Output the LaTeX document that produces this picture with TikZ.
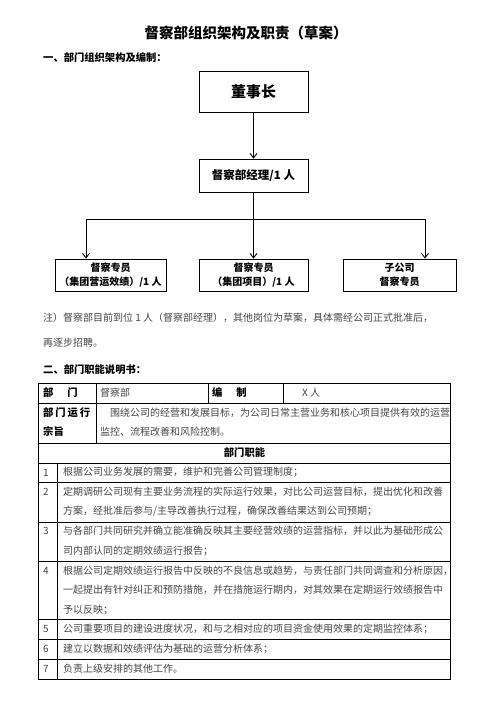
\documentclass[tikz,border=0pt]{standalone}
\usepackage{fontspec}
\setmainfont{Noto Sans CJK SC}
\usetikzlibrary{positioning, arrows.meta, calc}
\definecolor{bodygray}{RGB}{70,70,70}

\begin{document}
\begin{tikzpicture}[x=1pt, y=-1pt, >={Straight Barb[length=4.5pt, width=7pt, line width=0.9pt]},
  orgbox/.style={draw, line width=0.8pt, align=center, inner sep=0pt,
                 font=\bfseries\fontsize{10}{14.5}\selectfont},
  link/.style={line width=0.9pt},
  grid/.style={line width=0.8pt},
  txt/.style={anchor=west, inner sep=0pt, text=bodygray,
              font=\fontsize{10}{12}\selectfont},
  head/.style={anchor=west, inner sep=0pt,
               font=\bfseries\fontsize{10.3}{12}\selectfont}]
  \useasboundingbox (0,0) rectangle (496,702);

  % title and first heading
  \node[font=\bfseries\fontsize{14.5}{16}\selectfont] (title) at (246,33)
        {督察部组织架构及职责（草案）};
  \node[head] (sec1) at (43,58) {一、部门组织架构及编制：};

  % org chart
  \node[orgbox, minimum width=109pt, minimum height=41pt,
        font=\bfseries\fontsize{15}{18}\selectfont] (chair) at (253.5,91.5) {董事长};
  \node[orgbox, minimum width=109pt, minimum height=33pt,
        font=\bfseries\fontsize{11.5}{14}\selectfont] (mgr) at (253.5,175.5) {督察部经理/1 人};
  \node[orgbox, minimum width=111pt, minimum height=32pt] (audA) at (110.5,275)
        {督察专员\\（集团营运效绩）/1 人};
  \node[orgbox, minimum width=109pt, minimum height=32pt] (audB) at (253.5,275)
        {督察专员\\（集团项目）/1 人};
  \node[orgbox, minimum width=113pt, minimum height=32pt] (audC) at (399.5,275)
        {子公司\\督察专员};

  \coordinate (barL) at (86,219);
  \coordinate (barR) at (425,219);
  \draw[link, ->] (chair) -- (mgr);
  \draw[link] (barL) -- (barR);
  \draw[link, ->] (mgr) -- (audB);
  \draw[link, ->] (barL) -- (barL |- audA.north);
  \draw[link, ->] (barR) -- (barR |- audC.north);

  % note
  \node[txt] (note1) at (43,318)
        {注）督察部目前到位 1 人（督察部经理），其他岗位为草案，具体需经公司正式批准后，};
  \node[txt] (note2) at (43,343) {再逐步招聘。};
  \node[head] (sec2) at (43,370) {二、部门职能说明书：};

  % table grid
  \draw[grid] (38.5,383) rectangle (450.5,679);
  \foreach \y in {403,443,463,482,522,561,619,639,659}
    \draw[grid] (38.5,\y) -- (450.5,\y);
  \draw[grid] (96,383) -- (96,443);
  \draw[grid] (208,383) -- (208,403);
  \draw[grid] (283,383) -- (283,403);
  \draw[grid] (57.5,463) -- (57.5,679);

  % table head cells
  \node[head] (deptlbl) at (43,393) {部\hspace{14pt}门};
  \node[txt] (dept) at (100,393) {督察部};
  \node[head] (sizelbl) at (212,393) {编\hspace{14pt}制};
  \node[txt] (size) at (302,393) {X 人};
  \node[head] (aimlbl) at (43,413) {\makebox[47pt][l]{部\hfill 门\hfill 运\hfill 行}};
  \node[head] (aimlbl2) at (43,432) {宗旨};
  \node[txt] (aim1) at (110,413)
        {围绕公司的经营和发展目标，为公司日常主营业务和核心项目提供有效的运营};
  \node[txt] (aim2) at (100,432) {监控、流程改善和风险控制。};
  \node[head, anchor=center] (dutylbl) at (244.5,453) {部门职能};

  % duties
  \foreach \n/\y in {1/472.5, 2/492, 3/531, 4/571, 5/629, 6/649, 7/669}
    \node[txt] (num\n) at (43,\y) {\n};
  \foreach \i/\y/\t in {
      1/472.5/{根据公司业务发展的需要，维护和完善公司管理制度；},
      2a/492/{定期调研公司现有主要业务流程的实际运行效果，对比公司运营目标，提出优化和改善},
      2b/511/{方案，经批准后参与/主导改善执行过程，确保改善结果达到公司预期；},
      3a/531/{与各部门共同研究并确立能准确反映其主要经营效绩的运营指标，并以此为基础形成公},
      3b/551/{司内部认同的定期效绩运行报告；},
      4a/571/{根据公司定期效绩运行报告中反映的不良信息或趋势，与责任部门共同调查和分析原因，},
      4b/590/{一起提出有针对纠正和预防措施，并在措施运行期内，对其效果在定期运行效绩报告中},
      4c/610/{予以反映；},
      5/629/{公司重要项目的建设进度状况，和与之相对应的项目资金使用效果的定期监控体系；},
      6/649/{建立以数据和效绩评估为基础的运营分析体系；},
      7/669/{负责上级安排的其他工作。}}
    \node[txt] (item\i) at (63,\y) {\t};
\end{tikzpicture}
\end{document}
